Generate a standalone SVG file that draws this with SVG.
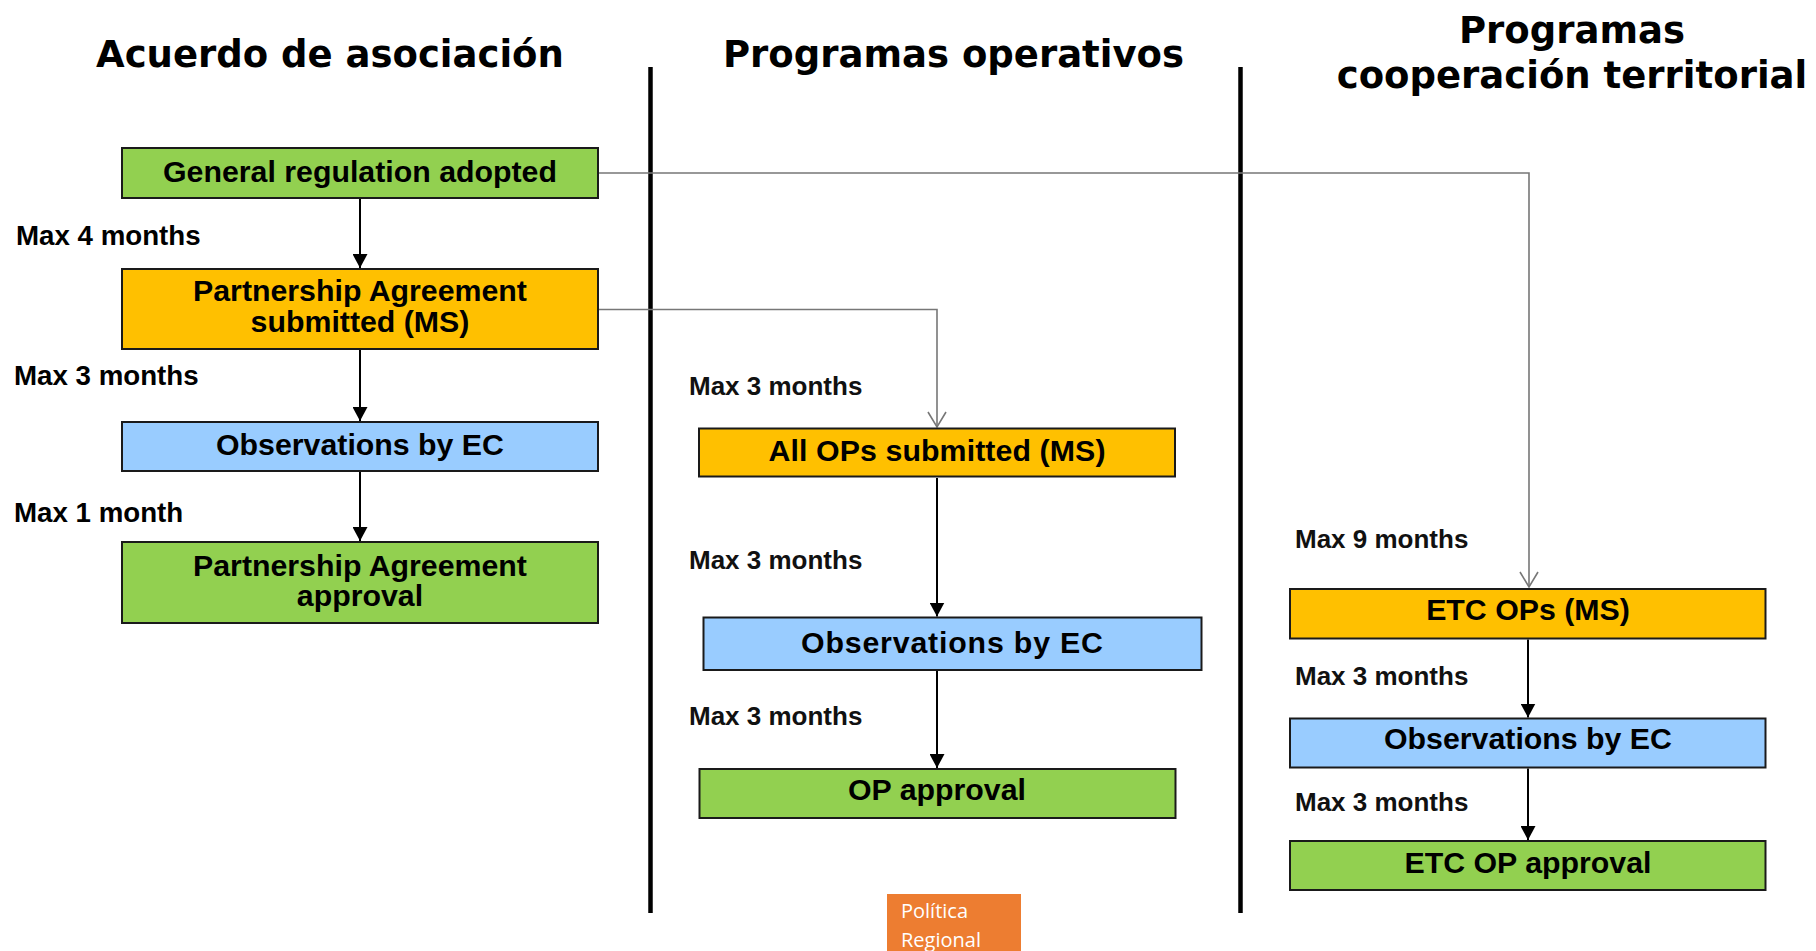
<svg xmlns="http://www.w3.org/2000/svg" width="1816" height="951" viewBox="0 0 1816 951">
<style>
.title{font-family:"DejaVu Sans",Verdana,sans-serif;font-weight:bold;font-size:37px;fill:#000}
.box{stroke:#1a1a1a;stroke-width:2}
.green{fill:#92d050}
.orange{fill:#ffc000}
.blue{fill:#99ccff}
.bt{font-family:"Liberation Sans",Arial,sans-serif;font-weight:bold;font-size:30.3px;fill:#000;text-anchor:middle}
.lbl{font-family:"Liberation Sans",Arial,sans-serif;font-weight:bold;font-size:27.7px;fill:#000}
.lbl2{font-family:"Liberation Sans",Arial,sans-serif;font-weight:bold;font-size:26px;fill:#111}
.sep{stroke:#000;stroke-width:4.5}
.arrow{stroke:#000;stroke-width:2;fill:none}
.conn{stroke:#777;stroke-width:1.6;fill:none}
.tag{font-family:"Open Sans","Noto Sans",sans-serif;font-size:20px;fill:#fff}
</style>
<defs>
<marker id="tri" markerUnits="userSpaceOnUse" markerWidth="15" markerHeight="15" refX="14" refY="7.5" orient="auto">
<path d="M0,0 L14,7.5 L0,15 Z" fill="#000"/>
</marker>
<marker id="vee" markerUnits="userSpaceOnUse" markerWidth="18" markerHeight="20" refX="16" refY="10" orient="auto">
<path d="M1,1 L16,10 L1,19" fill="none" stroke="#777" stroke-width="1.6"/>
</marker>
</defs>
<rect width="1816" height="951" fill="#fff"/>

<g id="titles">
<text class="title" x="96" y="67">Acuerdo de asociación</text>
<text class="title" x="723" y="67">Programas operativos</text>
<text class="title" x="1572" y="43" text-anchor="middle">Programas</text>
<text class="title" x="1572" y="88" text-anchor="middle">cooperación territorial</text>
</g>

<g id="separators">
<line class="sep" x1="650.5" y1="67" x2="650.5" y2="913"/>
<line class="sep" x1="1240.5" y1="67" x2="1240.5" y2="913"/>
</g>

<g id="connectors">
<path class="conn" d="M598,173 H1529 V587" marker-end="url(#vee)"/>
<path class="conn" d="M598,309.5 H937 V427" marker-end="url(#vee)"/>
<path class="arrow" d="M360,199 V268" marker-end="url(#tri)"/>
<path class="arrow" d="M360,350 V421" marker-end="url(#tri)"/>
<path class="arrow" d="M360,472 V541" marker-end="url(#tri)"/>
<path class="arrow" d="M937,478 V616.5" marker-end="url(#tri)"/>
<path class="arrow" d="M937,671 V768" marker-end="url(#tri)"/>
<path class="arrow" d="M1528,639.5 V717.5" marker-end="url(#tri)"/>
<path class="arrow" d="M1528,768.5 V840" marker-end="url(#tri)"/>
</g>

<g id="labels">
<text class="lbl" x="16" y="245">Max 4 months</text>
<text class="lbl" x="14" y="385">Max 3 months</text>
<text class="lbl" x="14" y="521.7">Max 1 month</text>
<text class="lbl2" x="689" y="395">Max 3 months</text>
<text class="lbl2" x="689" y="569.3">Max 3 months</text>
<text class="lbl2" x="689" y="725">Max 3 months</text>
<text class="lbl2" x="1295" y="548.3">Max 9 months</text>
<text class="lbl2" x="1295" y="685">Max 3 months</text>
<text class="lbl2" x="1295" y="811">Max 3 months</text>
</g>

<g id="general-regulation">
<rect class="box green" x="122" y="148" width="476" height="50"/>
<text class="bt" x="360" y="181.7">General regulation adopted</text>
</g>
<g id="pa-submitted">
<rect class="box orange" x="122" y="269" width="476" height="80"/>
<text class="bt" x="360" y="301">Partnership Agreement</text>
<text class="bt" x="360" y="331.5">submitted (MS)</text>
</g>
<g id="pa-observations">
<rect class="box blue" x="122" y="422" width="476" height="49"/>
<text class="bt" x="360" y="455">Observations by EC</text>
</g>
<g id="pa-approval">
<rect class="box green" x="122" y="542" width="476" height="81"/>
<text class="bt" x="360" y="575.5">Partnership Agreement</text>
<text class="bt" x="360" y="605.5">approval</text>
</g>

<g id="ops-submitted">
<rect class="box orange" x="699" y="428.5" width="476" height="48"/>
<text class="bt" x="937" y="461" textLength="337" lengthAdjust="spacing">All OPs submitted (MS)</text>
</g>
<g id="ops-observations">
<rect class="box blue" x="703.5" y="617.5" width="498" height="52.5"/>
<text class="bt" x="952" y="653.3" font-size="30.5" textLength="302" lengthAdjust="spacing">Observations by EC</text>
</g>
<g id="op-approval">
<rect class="box green" x="699.5" y="769" width="476" height="49"/>
<text class="bt" x="937" y="800">OP approval</text>
</g>

<g id="etc-ops">
<rect class="box orange" x="1290" y="589" width="475.5" height="49.5"/>
<text class="bt" x="1528" y="620">ETC OPs (MS)</text>
</g>
<g id="etc-observations">
<rect class="box blue" x="1290" y="718.5" width="475.5" height="49"/>
<text class="bt" x="1528" y="749.3">Observations by EC</text>
</g>
<g id="etc-approval">
<rect class="box green" x="1290" y="841" width="475.5" height="49"/>
<text class="bt" x="1528" y="872.7">ETC OP approval</text>
</g>

<g id="politica-regional">
<rect x="887" y="894" width="134" height="57" fill="#ed7d31"/>
<text class="tag" x="901" y="918.3">Política</text>
<text class="tag" x="901" y="946.7">Regional</text>
</g>
</svg>
